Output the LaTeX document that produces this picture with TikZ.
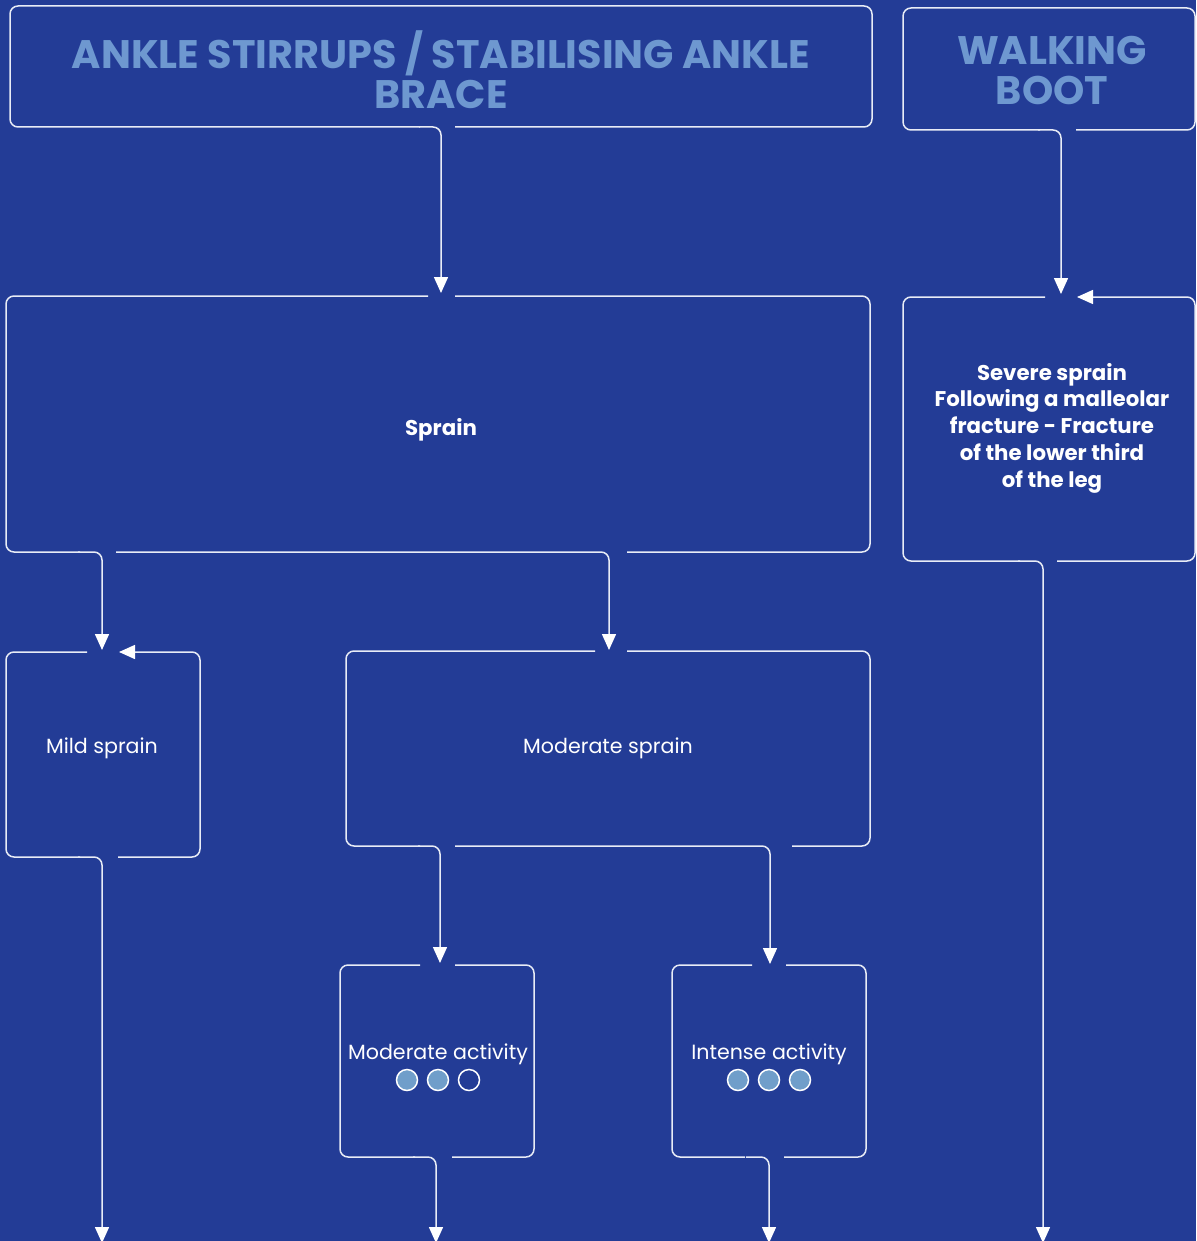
\documentclass[tikz,border=0pt]{standalone}
\usepackage{fontspec}
\setmainfont{Poppins}
\usetikzlibrary{arrows.meta,calc}
\definecolor{bg}{RGB}{35,60,150}
\definecolor{ttl}{RGB}{110,152,208}
\definecolor{dotc}{RGB}{112,158,202}
\definecolor{ln}{RGB}{232,236,246}
\begin{document}
\begin{tikzpicture}[x=1pt,y=-1pt,
  ol/.style={draw=ln,line width=1.5pt,rounded corners=8pt},
  conn/.style={ol,-{Triangle[length=16pt,width=14pt,color=white]}},
  box/.style={draw=none,inner sep=0pt,outer sep=0pt,rectangle},
  ttltext/.style={text=ttl,align=center,font=\bfseries\fontsize{39.8}{40}\selectfont},
  boldtext/.style={text=white,align=center,font=\bfseries\fontsize{21.3}{26.75}\selectfont},
  regtext/.style={text=white,align=center,font=\fontsize{20.6}{26}\selectfont},
  dot/.style={circle,draw=white,line width=1.5pt,minimum size=21pt,inner sep=0pt,fill=dotc},
  emptydot/.style={dot,fill=bg}]
\useasboundingbox (0,0) rectangle (1196,1241);
\fill[bg] (0,0) rectangle (1196,1241);

% box nodes
\node[box,minimum width=862pt,minimum height=121pt] (t1) at (441,66.5) {};
\node[box,minimum width=292pt,minimum height=122pt] (t2) at (1049,69) {};
\node[box,minimum width=864pt,minimum height=256pt] (sp) at (438,424) {};
\node[box,minimum width=292pt,minimum height=264pt] (sv) at (1049,429) {};
\node[box,minimum width=194pt,minimum height=205pt] (mi) at (103,754.5) {};
\node[box,minimum width=524pt,minimum height=195pt] (mo) at (608,748.5) {};
\node[box,minimum width=194pt,minimum height=192pt] (ma) at (437,1061) {};
\node[box,minimum width=194pt,minimum height=192pt] (ia) at (769,1061) {};
\coordinate (e1) at (102,1243);
\coordinate (e2) at (436,1243);
\coordinate (e3) at (769,1243);
\coordinate (e4) at (1043,1243);

% texts
\node[ttltext] (t1t) at (441,70) {ANKLE STIRRUPS / STABILISING ANKLE\\BRACE};
\node[ttltext] (t2t) at (1052,71) {WALKING\\BOOT};
\node[boldtext] (spt) at (441,430) {Sprain};
\node[boldtext] (svt) at (1052,428) {Severe sprain\\Following a malleolar\\fracture - Fracture\\of the lower third\\of the leg};
\node[regtext] (mit) at (102,748) {Mild sprain};
\node[regtext] (mot) at (608,748) {Moderate sprain};
\node[regtext] (mat) at (438,1054) {Moderate activity};
\node[regtext] (iat) at (769,1054) {Intense activity};
\node[dot] (ma1) at (407,1080) {};
\node[dot] (ma2) at (438,1080) {};
\node[emptydot] (ma3) at (469,1080) {};
\node[dot] (ia1) at (738,1080) {};
\node[dot] (ia2) at (769,1080) {};
\node[dot] (ia3) at (800,1080) {};

% outlines
% t1
\draw[ol] (455,127) -- (872,127) -- (872,6) -- (10,6) -- (10,127) -- (420,127);
% t2
\draw[ol] (1076,130) -- (1195,130) -- (1195,8) -- (903,8) -- (903,130) -- (1040,130);
% sp
\draw[ol] (455,296) -- (870,296) -- (870,552) -- (627,552);
\draw[ol] (428,296) -- (6,296) -- (6,552) -- (80,552);
% sv
\draw[ol] (1045,297) -- (903,297) -- (903,561) -- (1020,561);
\draw[conn] (1057,561) -- (1195,561) -- (1195,297) -- (1077,297);
% mi
\draw[ol] (87,652) -- (6,652) -- (6,857) -- (80,857);
\draw[conn] (118,857) -- (200,857) -- (200,652) -- (119,652);
% mo
\draw[ol] (595,651) -- (346,651) -- (346,846) -- (420,846);
\draw[ol] (627,651) -- (870,651) -- (870,846) -- (792,846);
% ma
\draw[ol] (420,965) -- (340,965) -- (340,1157) -- (415,1157);
\draw[ol] (455,965) -- (534,965) -- (534,1157) -- (452,1157);
% ia
\draw[ol] (752,965) -- (672,965) -- (672,1157) -- (745,1157);
\draw[ol] (786,965) -- (866,965) -- (866,1157) -- (784,1157);

% connectors
\draw[conn] ($(t1.south)+(-22,0)$) -- (t1.south) -- ($(t1.south |- sp.north)+(0,-3)$);
\draw[conn] (1038,130) -- (1061,130) -- (1061,294);
\draw[conn] ($(sp.south -| e1)+(-24,0)$) -- (sp.south -| e1) -- (102,650);
\draw[conn] (116,552) -- (609,552) -- (609,650);
\draw[conn] ($(sv.south -| e4)+(-25,0)$) -- (sv.south -| e4) -- (e4);
\draw[conn] ($(mi.south -| e1)+(-24,0)$) -- (mi.south -| e1) -- (e1);
\draw[conn] (418,846) -- (440,846) -- (440,963);
\draw[conn] (455,846) -- (770,846) -- (770,964);
\draw[conn] ($(ma.south -| e2)+(-23,0)$) -- (ma.south -| e2) -- (e2);
\draw[conn] ($(ia.south -| e3)+(-23,0)$) -- (ia.south -| e3) -- (e3);
\end{tikzpicture}
\end{document}
